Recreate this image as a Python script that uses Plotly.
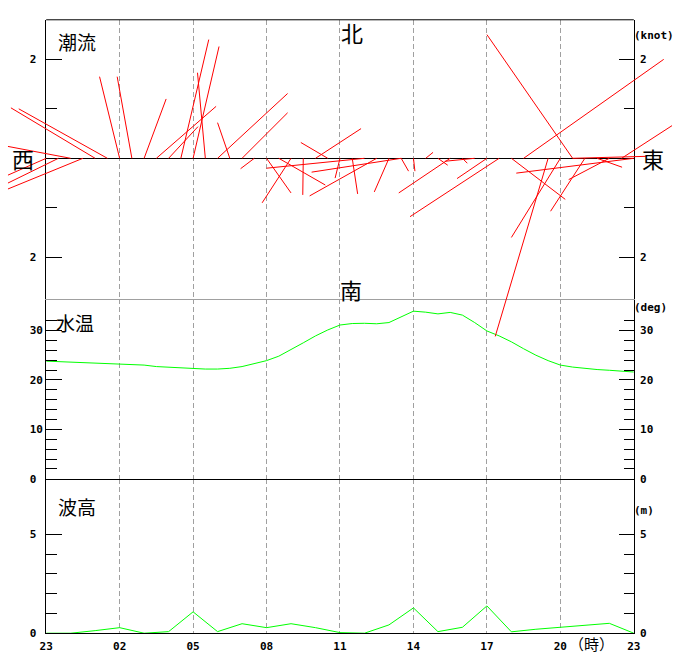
import plotly.graph_objects as go

# ---------------- data ----------------
# x positions are hours elapsed since 23:00 of the previous day
hour_ticks = [0, 3, 6, 9, 12, 15, 18, 21, 24]
hour_labels = ["23", "02", "05", "08", "11", "14", "17", "20", "23"]

# tidal current: time (h), eastward component (knot), northward component (knot)
cur_t = [0.0, 0.5, 1.0, 1.5, 2.0, 2.5, 3.0, 3.5, 4.0, 4.5, 5.0, 5.5, 6.0, 6.5,
         7.0, 7.5, 8.0, 8.5, 9.0, 9.5, 10.0, 10.5, 11.0, 11.5, 12.0, 12.5,
         13.0, 13.5, 14.0, 14.5, 14.5, 15.0, 15.5, 16.0, 16.5, 17.0, 17.5,
         18.0, 18.5, 19.0, 19.5, 20.5, 21.0, 21.5, 21.5, 22.0, 22.5, 23.0,
         23.5, 24.0]
cur_u = [-0.78, -1.03, -1.28, -1.53, -1.72, -1.81, -0.41, -0.30, 0.45, 1.22,
         0.60, 0.57, 0.53, -0.16, 1.43, -0.25, 0.93, -0.28, 0.50, 0.95,
         -0.59, -0.01, 0.93, -0.55, -0.10, 0.11, -2.00, -1.37, -0.30, -1.83,
         0.15, 0.03, 0.15, 0.20, -1.05, 0.10, -0.61, -0.61, -1.82, 1.10,
         2.86, -1.08, -1.00, -1.75, 1.51, -0.70, 0.51, -0.83, 1.03, -2.40]
cur_v = [-0.34, -0.50, 0.24, -0.62, 1.02, 1.00, 1.65, 1.65, 1.20, 1.05,
         0.64, 2.40, 2.26, 1.73, 1.31, 0.72, 0.92, -0.21, -0.70, -0.54,
         -0.90, -0.74, 0.60, 0.32, -0.40, -0.72, -0.20, -0.76, -0.68, -0.28,
         -0.26, -0.26, 0.12, -0.14, -0.70, -0.10, -0.06, -0.41, -1.18, -0.83,
         2.00, -3.60, -1.60, 2.50, 0.04, -1.07, -0.18, -0.43, 0.66, -0.30]

# water temperature (deg C), half-hourly
temp_t = [0.0, 0.5, 1.0, 1.5, 2.0, 2.5, 3.0, 3.5, 4.0, 4.5, 5.0, 5.5, 6.0,
          6.5, 7.0, 7.5, 8.0, 8.5, 9.0, 9.5, 10.0, 10.5, 11.0, 11.5, 12.0,
          12.5, 13.0, 13.5, 14.0, 14.5, 15.0, 15.5, 16.0, 16.5, 17.0, 17.5,
          18.0, 18.5, 19.0, 19.5, 20.0, 20.5, 21.0, 21.5, 22.0, 22.5, 23.0,
          23.5, 24.0]
temp_c = [23.8, 23.7, 23.5, 23.45, 23.3, 23.25, 23.2, 23.1, 23.0, 22.7, 22.55,
          22.4, 22.3, 22.2, 22.2, 22.35, 22.7, 23.3, 23.9, 24.8, 26.1, 27.5,
          28.9, 30.1, 31.1, 31.4, 31.45, 31.35, 31.6, 32.8, 33.9, 33.7, 33.35,
          33.65, 33.1, 31.6, 29.9, 28.9, 27.7, 26.3, 25.0, 23.9, 23.0, 22.6,
          22.3, 22.1, 21.95, 21.75, 21.6]

# wave height (m), hourly
wave_t = [0, 1, 2, 3, 4, 5, 6, 7, 8, 9, 10, 11, 12, 13, 14, 15, 16, 17, 18,
          19, 20, 21, 22, 23, 24]
wave_m = [0.0, 0.0, 0.13, 0.28, 0.0, 0.08, 1.08, 0.08, 0.48, 0.28, 0.48, 0.28,
          0.03, 0.0, 0.42, 1.28, 0.08, 0.30, 1.38, 0.07, 0.20, 0.30, 0.42,
          0.50, 0.0]

# ---------------- geometry (pixels) ----------------
W, H = 680, 660
PL, PR = 40, 640                 # plot left / right
P_TOP, P_B1, P_B2, P_BOT = 20, 302, 484, 640
C_ZERO = 160                     # current zero line
KNOT_PX = 50                     # px per knot
HOUR_PX = (PR - PL) / 24.0       # px per hour
DEG_PX = 5
M_PX = 20

def pdx(px):
    return px / W

def pdy(py):
    return 1 - py / H

xdom = [pdx(PL), pdx(PR)]
MONO = "DejaVu Sans Mono"
CJK = "Noto Sans CJK JP"
tickfont = dict(family=MONO, size=11, color="black", weight="bold")
GRID = "#a0a0a0"
NB = "\u00a0"

fig = go.Figure()

fig.add_trace(go.Scatter(x=temp_t, y=temp_c, mode="lines", xaxis="x2", yaxis="y2",
                         line=dict(color="#00ff00", width=1),
                         hoverinfo="skip", showlegend=False))
fig.add_trace(go.Scatter(x=wave_t, y=wave_m, mode="lines", xaxis="x", yaxis="y",
                         line=dict(color="#00ff00", width=1),
                         hoverinfo="skip", showlegend=False))
for xa, ya in [("x3", "y3"), ("x", "y5"), ("x2", "y6"), ("x3", "y7")]:
    fig.add_trace(go.Scatter(x=[None], y=[None], xaxis=xa, yaxis=ya,
                             hoverinfo="skip", showlegend=False))

# current vectors on a full-canvas overlay axis (hours / knots)
vx, vy = [], []
for t, u, v in zip(cur_t, cur_u, cur_v):
    vx += [t, t + u * KNOT_PX / HOUR_PX, None]
    vy += [0, v, None]
fig.add_trace(go.Scatter(x=vx, y=vy, mode="lines", xaxis="x4", yaxis="y4",
                         line=dict(color="#ff0000", width=1),
                         hoverinfo="skip", showlegend=False))

def xaxis(anchor, labels, linecolor):
    return dict(domain=xdom, anchor=anchor, range=[0, 24], tickmode="array",
                tickvals=hour_ticks, ticktext=hour_labels, showticklabels=labels,
                ticks="", showgrid=True, gridcolor=GRID, griddash="5px,3px",
                gridwidth=1, showline=True, linecolor=linecolor, linewidth=1,
                zeroline=False, tickfont=tickfont, ticklabelstandoff=3,
                fixedrange=True)

def yaxis(anchor, dom, rng, vals, text, minor_vals, side="left",
          overlay=None, zl=False):
    d = dict(anchor=anchor, range=rng, tickmode="array", tickvals=vals,
             ticktext=text, ticks="inside",
             ticklen=16 if side == "left" else 15, tickwidth=1,
             tickcolor="black", showgrid=False, showline=True,
             linecolor="black", linewidth=1, zeroline=zl,
             zerolinecolor="black", zerolinewidth=1, tickfont=tickfont,
             side=side, fixedrange=True,
             ticklabelstandoff=0 if side == "left" else 3,
             minor=dict(tickmode="array", tickvals=minor_vals, ticks="inside",
                        ticklen=11 if side == "left" else 10, tickwidth=1,
                        tickcolor="black", showgrid=False))
    if overlay:
        d["overlaying"] = overlay
    else:
        d["domain"] = dom
    return d

cur_rng = [-(P_B1 - C_ZERO) / KNOT_PX, (C_ZERO - P_TOP) / KNOT_PX]
tmp_rng = [0, (P_B2 - P_B1) / DEG_PX]
wav_rng = [0, (P_BOT - P_B2) / M_PX]
dom_cur = [pdy(P_B1), pdy(P_TOP)]
dom_tmp = [pdy(P_B2), pdy(P_B1)]
dom_wav = [pdy(P_BOT), pdy(P_B2)]

tmp_minor = [v for v in range(2, 34, 2) if v % 10]

fig.update_layout(
    width=W, height=H, margin=dict(l=0, r=0, t=0, b=0, pad=0),
    paper_bgcolor="white", plot_bgcolor="rgba(0,0,0,0)", showlegend=False,
    xaxis=xaxis("y", True, "black"),
    xaxis2=xaxis("y2", False, "black"),
    xaxis3=xaxis("y3", False, GRID),
    xaxis4=dict(domain=[0, 1], anchor="y4", range=[-PL / HOUR_PX, (W - PL) / HOUR_PX],
                visible=False, fixedrange=True),
    yaxis4=dict(domain=[0, 1], anchor="x4",
                range=[-(H - C_ZERO) / KNOT_PX, C_ZERO / KNOT_PX],
                visible=False, fixedrange=True),
    yaxis=yaxis("x", dom_wav, wav_rng, [0, 5], ["0" + NB, "5" + NB], [1, 2, 3, 4]),
    yaxis5=yaxis("x", None, wav_rng, [0, 5], ["0", "5"], [1, 2, 3, 4],
                 side="right", overlay="y"),
    yaxis2=yaxis("x2", dom_tmp, tmp_rng, [0, 10, 20, 30],
                  ["0" + NB, "10", "20", "30"], tmp_minor),
    yaxis6=yaxis("x2", None, tmp_rng, [0, 10, 20, 30], ["0", "10", "20", "30"],
                 tmp_minor, side="right", overlay="y2"),
    yaxis3=yaxis("x3", dom_cur, cur_rng, [-2, 2], ["2" + NB, "2" + NB], [-1, 1],
                  zl=True),
    yaxis7=yaxis("x3", None, cur_rng, [-2, 2], ["2", "2"], [-1, 1],
                 side="right", overlay="y3"),
)

# top border of the current panel
fig.add_shape(type="line", xref="paper", yref="paper", x0=pdx(PL), x1=pdx(PR),
              y0=pdy(P_TOP), y1=pdy(P_TOP), line=dict(color="black", width=1))

def note(text, px, py, size, family, xanchor="center", bold=False):
    fig.add_annotation(text=text, x=pdx(px), y=pdy(py), xref="paper", yref="paper",
                       xanchor=xanchor, yanchor="middle", showarrow=False,
                       borderpad=0, borderwidth=0,
                       font=dict(family=family, size=size, color="black",
                                 weight="bold" if bold else "normal"))

note("潮流", 52, 42, 19, CJK, xanchor="left")
note("水温", 50, 326, 19, CJK, xanchor="left")
note("波高", 52, 512, 19, CJK, xanchor="left")
note("北", 352, 32, 22, CJK)
note("南", 351, 292, 22, CJK)
note("西", 16, 160, 22, CJK)
note("東", 660, 160, 22, CJK)
note("(knot)", 640, 36, 11, MONO, xanchor="left", bold=True)
note("(deg)", 640, 311, 11, MONO, xanchor="left", bold=True)
note("(m)", 640, 516, 11, MONO, xanchor="left", bold=True)
note("（時）", 597, 650, 15, CJK)

fig.write_html(
    "out.html",
    config={"staticPlot": True, "displayModeBar": False, "responsive": False},
    post_script="document.body.style.margin='0';document.body.style.padding='0';"
                "document.documentElement.style.overflow='hidden';",
)
